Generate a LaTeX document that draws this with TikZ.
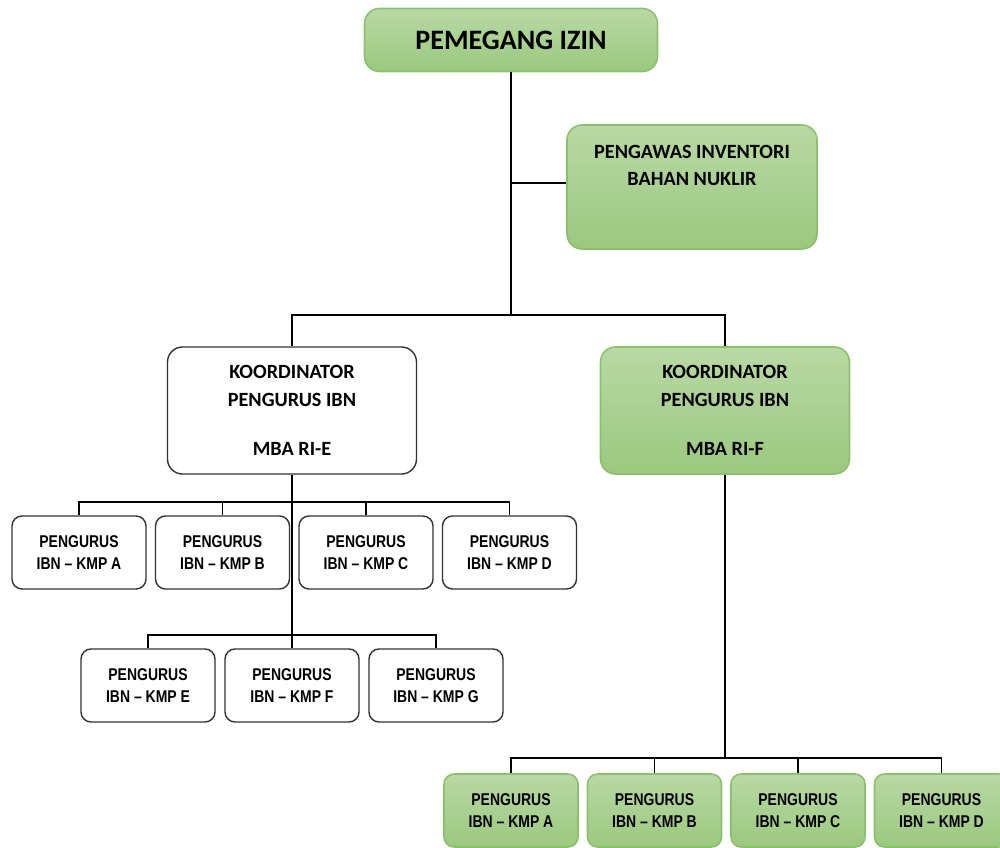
\documentclass[tikz,border=0pt]{standalone}
\usepackage{fontspec}
\setmainfont{Carlito}
\newfontfamily\narrowfont{Liberation Sans}[FakeStretch=0.82]
\definecolor{greentop}{HTML}{B8D9A4}
\definecolor{greenbot}{HTML}{9BC87E}
\definecolor{greenline}{HTML}{8CC06C}
\begin{document}
\begin{tikzpicture}
                \tikzstyle{greenbox} = [rectangle, rounded corners=0.3cm, draw=greenline, line width=0.9pt, top color=greentop, bottom color=greenbot, align=center, font=\bfseries\fontsize{11.5}{15.9}\selectfont]
                \tikzstyle{whitebox} = [rectangle, rounded corners=0.3cm, draw=black!80, line width=0.8pt, fill=white, align=center, font=\bfseries\fontsize{11.5}{15.9}\selectfont]
                \tikzstyle{koord} = [minimum width=4.98cm, minimum height=2.54cm]
                \tikzstyle{kmp} = [minimum width=2.68cm, minimum height=1.46cm, rounded corners=0.2cm, font=\narrowfont\bfseries\fontsize{9.7}{12.5}\selectfont]
                \tikzstyle{line} = [line width=0.6pt]

                \useasboundingbox (0,0) rectangle (20,-16.94);

                \node (izin) [greenbox, minimum width=5.86cm, minimum height=1.26cm, font=\bfseries\fontsize{16}{18}\selectfont] at (10.22,-0.80) {PEMEGANG IZIN};
                \node (pengawas) [greenbox, below of=izin, node distance=2.94cm, xshift=3.62cm, minimum width=5.0cm, minimum height=2.48cm] {};
                \node (pengawastxt) [align=center, font=\bfseries\fontsize{11.5}{15.3}\selectfont] at ([yshift=-0.83cm]pengawas.north) {PENGAWAS INVENTORI\\BAHAN NUKLIR};

                \node (koordE) [whitebox, koord] at (5.84,-8.21) {KOORDINATOR\\PENGURUS IBN\\[0.42cm]MBA RI-E};
                \node (koordF) [greenbox, koord] at (14.50,-8.21) {KOORDINATOR\\PENGURUS IBN\\[0.42cm]MBA RI-F};

                \node (kmpEA) [whitebox, kmp, below of=koordE, node distance=2.84cm, xshift=-4.26cm] {PENGURUS\\IBN – KMP A};
                \node (kmpEB) [whitebox, kmp, right of=kmpEA, node distance=2.87cm] {PENGURUS\\IBN – KMP B};
                \node (kmpEC) [whitebox, kmp, right of=kmpEB, node distance=2.87cm] {PENGURUS\\IBN – KMP C};
                \node (kmpED) [whitebox, kmp, right of=kmpEC, node distance=2.87cm] {PENGURUS\\IBN – KMP D};

                \node (kmpEF) [whitebox, kmp, below of=koordE, node distance=5.50cm] {PENGURUS\\IBN – KMP F};
                \node (kmpEE) [whitebox, kmp, left of=kmpEF, node distance=2.88cm] {PENGURUS\\IBN – KMP E};
                \node (kmpEG) [whitebox, kmp, right of=kmpEF, node distance=2.88cm] {PENGURUS\\IBN – KMP G};

                \node (kmpFA) [greenbox, kmp, below of=koordF, node distance=8.00cm, xshift=-4.28cm] {PENGURUS\\IBN – KMP A};
                \node (kmpFB) [greenbox, kmp, right of=kmpFA, node distance=2.87cm] {PENGURUS\\IBN – KMP B};
                \node (kmpFC) [greenbox, kmp, right of=kmpFB, node distance=2.87cm] {PENGURUS\\IBN – KMP C};
                \node (kmpFD) [greenbox, kmp, right of=kmpFC, node distance=2.87cm] {PENGURUS\\IBN – KMP D};

                \coordinate (split) at (10.22,-6.30);
                \coordinate (eRow1) at (koordE.south |- 0,-10.04);
                \coordinate (eRow2) at (koordE.south |- 0,-12.70);
                \coordinate (fRow) at (koordF.south |- 0,-15.16);

                \draw [line] (izin) -- (split);
                \draw [line] ([yshift=0.08cm]pengawas.west) -- ([yshift=0.08cm]pengawas.west -| split);
                \draw [line] (split) -| (koordE);
                \draw [line] (split) -| (koordF);

                \draw [line] (koordE) -- (eRow2);
                \draw [line] (eRow1) -| (kmpEA);
                \draw [line] (eRow1) -| (kmpEB);
                \draw [line] (eRow1) -| (kmpEC);
                \draw [line] (eRow1) -| (kmpED);
                \draw [line] (eRow2) -| (kmpEE);
                \draw [line] (eRow2) -- (kmpEF);
                \draw [line] (eRow2) -| (kmpEG);

                \draw [line] (koordF) -- (fRow);
                \draw [line] (fRow) -| (kmpFA);
                \draw [line] (fRow) -| (kmpFB);
                \draw [line] (fRow) -| (kmpFC);
                \draw [line] (fRow) -| (kmpFD);
            \end{tikzpicture}
\end{document}
